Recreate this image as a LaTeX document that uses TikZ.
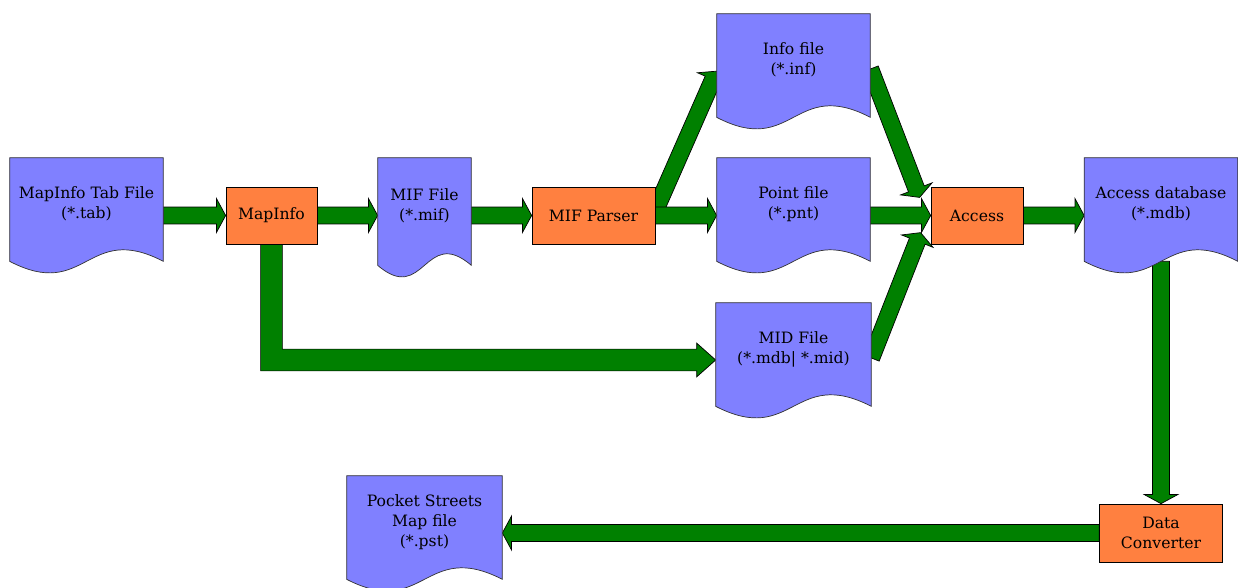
\documentclass[tikz,border=0pt]{standalone}
\usepackage{fontspec}
\setmainfont{DejaVu Serif}
\usepackage{tikz}
\usetikzlibrary{calc,positioning}
\pgfdeclarelayer{background}
\pgfsetlayers{background,main}

\definecolor{docblue}{HTML}{8080FF}
\definecolor{boxorange}{HTML}{FF8040}
\definecolor{arrowgreen}{HTML}{008000}

\tikzset{
  every node/.style={font=\fontsize{8.9}{11.4}\selectfont},
  doc/.style={align=center,minimum height=1.84cm,inner sep=0pt},
  procbox/.style={draw,fill=boxorange,align=center,minimum height=1.14cm,inner sep=0pt},
  fatarrow/.style={fill=arrowgreen,draw=black,line width=0.4pt,line join=miter},
  docline/.style={fill=docblue,draw=black!80,line width=0.4pt}
}

% thick green arrow between two points
\newcommand{\fatarrow}[2]{%
  \filldraw[fatarrow] let \p1=#1, \p2=#2, \n1={atan2(\y2-\y1,\x2-\x1)}, \n2={veclen(\y2-\y1,\x2-\x1)}
    in [shift={(\p1)},rotate=\n1] (0pt,-4.8pt) -- (\n2-5.2pt,-4.8pt) -- (\n2-5.2pt,-9.6pt) -- (\n2,0pt)
    -- (\n2-5.2pt,9.6pt) -- (\n2-5.2pt,4.8pt) -- (0pt,4.8pt) -- cycle;}

\begin{document}
\begin{tikzpicture}[x=0.02cm,y=-0.02cm]
\useasboundingbox (0,0) rectangle (1238,588);

% documents
\node (tab) at (86.5,204) [doc,minimum width=3.06cm] {MapInfo Tab File\\(*.tab)};
\node (mif) at (424.5,206) [doc,minimum width=1.86cm,minimum height=1.92cm] {MIF File\\(*.mif)};
\node (info) at (793.5,60) [doc,minimum width=3.06cm] {Info file\\(*.inf)};
\node (point) at (793.5,204) [doc,minimum width=3.06cm] {Point file\\(*.pnt)};
\node (mid) at (793.5,349) [doc,minimum width=3.1cm] {MID File\\(*.mdb|\ *.mid)};
\node (accdb) at (1161,204) [doc,minimum width=3.06cm] {Access database\\(*.mdb)};
\node (pocket) at (424.5,522) [doc,minimum width=3.1cm] {Pocket Streets\\Map file\\(*.pst)};

% processes
\node (mapinfo) at (271.5,215.5) [procbox,minimum width=1.82cm] {MapInfo};
\node (parser) at (593.5,215.5) [procbox,minimum width=2.46cm] {MIF Parser};
\node (access) at (977,215.5) [procbox,minimum width=1.84cm] {Access};
\node (converter) at (1161,533) [procbox,minimum width=2.46cm,minimum height=1.16cm] {Data\\Converter};

\begin{pgfonlayer}{background}
\fatarrow{(tab.east |- mapinfo.west)}{(mapinfo.west)}
\fatarrow{(mapinfo.east)}{(mif.west |- mapinfo.east)}
\fatarrow{(mif.east |- parser.west)}{(parser.west)}
\fatarrow{($(parser.east)+(0,-5)$)}{($(info.west)+(0,11)$)}
\fatarrow{(parser.east)}{(point.west |- parser.east)}
\fatarrow{($(info.east)+(0,9)$)}{($(access.west)+(-11,-18)$)}
\fatarrow{($(mid.east)+(0,9)$)}{($(access.west)+(-10,17)$)}
\fatarrow{(point.east |- access.west)}{(access.west)}
\fatarrow{(access.east)}{(accdb.west |- access.east)}
\fatarrow{($(accdb.south)+(0,11)$)}{(converter.north)}
\fatarrow{(converter.west)}{(pocket.east |- converter.west)}
% elbow from MapInfo down to the MID file
\filldraw[fatarrow] let \p1=(mapinfo.south), \p2=($(mid.west)+(0,11)$) in
  (\x1-6.2pt,\y1) -- (\x1-6.2pt,\y2-6.2pt) -- (\x2-10.8pt,\y2-6.2pt) -- (\x2-10.8pt,\y2-9.6pt) -- (\x2,\y2)
  -- (\x2-10.8pt,\y2+9.6pt) -- (\x2-10.8pt,\y2+6.2pt) -- (\x1+6.2pt,\y2+6.2pt) -- (\x1+6.2pt,\y1) -- cycle;

\foreach \d in {tab,mif,info,point,mid,accdb,pocket}
  \filldraw[docline] (\d.north west) -- (\d.north east) -- ($(\d.south east)+(0,11)$)
    .. controls ($(\d.south west)!0.5!(\d.south east)+(0,-29)$) and ($(\d.south west)!0.5!(\d.south east)+(0,51)$)
    .. ($(\d.south west)+(0,11)$) -- cycle;
\end{pgfonlayer}
\end{tikzpicture}
\end{document}
